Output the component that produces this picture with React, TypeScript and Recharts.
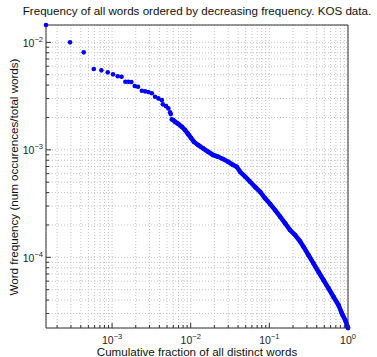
import React from 'react';
import { ScatterChart, Scatter, XAxis, YAxis, CartesianGrid } from 'recharts';

// axis limits (axis tight, as in the source plot)
const X_MIN = 1.445e-4;
const X_MAX = 1;
const Y_MIN = 2.2e-5;
const Y_MAX = 0.0145;

const X_MAJOR = [1e-3, 1e-2, 1e-1, 1];
const X_MINOR = [
  2e-4, 3e-4, 4e-4, 5e-4, 6e-4, 7e-4, 8e-4, 9e-4,
  2e-3, 3e-3, 4e-3, 5e-3, 6e-3, 7e-3, 8e-3, 9e-3,
  2e-2, 3e-2, 4e-2, 5e-2, 6e-2, 7e-2, 8e-2, 9e-2,
  0.2, 0.3, 0.4, 0.5, 0.6, 0.7, 0.8, 0.9,
];
const Y_MAJOR = [1e-4, 1e-3, 1e-2];
const Y_MINOR = [
  3e-5, 4e-5, 5e-5, 6e-5, 7e-5, 8e-5, 9e-5,
  2e-4, 3e-4, 4e-4, 5e-4, 6e-4, 7e-4, 8e-4, 9e-4,
  2e-3, 3e-3, 4e-3, 5e-3, 6e-3, 7e-3, 8e-3, 9e-3,
];

// most frequent words: separate dots
const HEAD_X = [
  1.445e-4, 2.92e-4, 4.36e-4, 5.85e-4, 7.31e-4, 8.81e-4, 1.028e-3, 1.18e-3, 1.321e-3,
  1.476e-3, 1.61e-3, 1.757e-3, 1.941e-3, 2.138e-3, 2.388e-3, 2.63e-3, 2.9e-3, 3.2e-3,
  3.52e-3, 3.88e-3, 4.29e-3, 4.42e-3, 4.86e-3, 5.2e-3, 5.47e-3, 5.58e-3, 5.74e-3,
];
const HEAD_Y = [
  0.01449, 0.01, 0.00807, 0.00565, 0.00549, 0.00526, 0.00504, 0.00483, 0.00479,
  0.0043, 0.0043, 0.00428, 0.00392, 0.00386, 0.00355, 0.0035, 0.00345, 0.00336,
  0.00312, 0.00301, 0.0029, 0.00265, 0.00255, 0.00243, 0.00223, 0.00215, 0.00192,
];

// the long tail, where the dots merge into a band
const TAIL_X = [
  5.97e-3, 6.32e-3, 6.97e-3, 7.69e-3, 8.47e-3, 9.27e-3, 0.01012, 0.01104, 0.01242,
  0.01435, 0.01664, 0.01928, 0.0223, 0.0258, 0.0299, 0.0346, 0.0385, 0.0425, 0.0492,
  0.0569, 0.0659, 0.0764, 0.0883, 0.1023, 0.1184, 0.1371, 0.1588, 0.1836, 0.2128,
  0.2466, 0.2716, 0.3141, 0.3638, 0.4207, 0.4875, 0.5649, 0.6531, 0.7568, 0.8356,
  0.9204, 0.9954, 1,
];
const TAIL_Y = [
  1.892e-3, 1.824e-3, 1.738e-3, 1.64e-3, 1.528e-3, 1.403e-3, 1.288e-3, 1.183e-3, 1.109e-3,
  1.032e-3, 9.6e-4, 8.95e-4, 8.63e-4, 8.21e-4, 7.75e-4, 7.22e-4, 6.96e-4, 6.25e-4, 5.62e-4,
  5.05e-4, 4.51e-4, 4.07e-4, 3.54e-4, 3.13e-4, 2.75e-4, 2.39e-4, 2.07e-4, 1.795e-4, 1.611e-4,
  1.403e-4, 1.256e-4, 1.05e-4, 8.79e-5, 7.34e-5, 6.15e-5, 5.15e-5, 4.3e-5, 3.6e-5, 3.01e-5,
  2.61e-5, 2.23e-5, 2.2e-5,
];

const headData = HEAD_X.map((x, i) => ({ x, y: HEAD_Y[i] }));
const tailData = TAIL_X.map((x, i) => ({ x, y: TAIL_Y[i] }));

const X_TICKS = [...X_MINOR, ...X_MAJOR].sort((a, b) => a - b);
const Y_TICKS = [...Y_MINOR, ...Y_MAJOR].sort((a, b) => a - b);

const FONT = '"Liberation Sans", Arial, sans-serif';
const BLUE = '#0000ff';
const AXIS = '#333';

const expLabel = (v: number) => {
  const e = Math.round(Math.log10(v));
  return e < 0 ? '\u2212' + -e : String(e);
};

const Power = ({ x, y, v, anchor }: any) => (
  <text x={x} y={y} textAnchor={anchor} fontFamily={FONT} fontSize={10.5} fill="#222">
    <tspan>10</tspan>
    <tspan dy={-5} fontSize={7.5}>{expLabel(v)}</tspan>
  </text>
);

const BottomTick = ({ x, y, payload }: any) => {
  const major = X_MAJOR.includes(payload.value);
  return (
    <g>
      <line x1={x} x2={x} y1={y} y2={y - (major ? 5 : 3)} stroke={AXIS} />
      {major && <Power x={x} y={y + 16} v={payload.value} anchor="middle" />}
    </g>
  );
};

const TopTick = ({ x, y, payload }: any) => {
  const major = X_MAJOR.includes(payload.value);
  return <line x1={x} x2={x} y1={y} y2={y + (major ? 5 : 3)} stroke={AXIS} />;
};

const LeftTick = ({ x, y, payload }: any) => {
  const major = Y_MAJOR.includes(payload.value);
  return (
    <g>
      <line x1={x} x2={x + (major ? 5 : 3)} y1={y} y2={y} stroke={AXIS} />
      {major && <Power x={x - 3} y={y + 4.4} v={payload.value} anchor="end" />}
    </g>
  );
};

const RightTick = ({ x, y, payload }: any) => {
  const major = Y_MAJOR.includes(payload.value);
  return <line x1={x} x2={x - (major ? 5 : 3)} y1={y} y2={y} stroke={AXIS} />;
};

const Dot = (props: any) => <circle cx={props.cx} cy={props.cy} r={2.3} fill={BLUE} />;

const textStyle: React.CSSProperties = {
  position: 'absolute',
  fontFamily: FONT,
  fontSize: 11.6,
  lineHeight: '14px',
  whiteSpace: 'nowrap',
  color: '#111',
};

export default function App() {
  return (
    <div style={{ position: 'absolute', left: 0, top: 0, width: 377, height: 357, background: '#fff' }}>
      <ScatterChart width={377} height={357} margin={{ top: 15, right: 19, bottom: 9, left: 16 }}>
        <CartesianGrid stroke="#c2c2c2" strokeDasharray="1 2" />
        <XAxis
          dataKey="x"
          type="number"
          scale="log"
          domain={[X_MIN, X_MAX]}
          ticks={X_TICKS}
          interval={0}
          height={20}
          tickSize={0}
          tickMargin={0}
          tickLine={false}
          axisLine={{ stroke: AXIS }}
          tick={<BottomTick />}
        />
        <XAxis
          xAxisId="top"
          orientation="top"
          dataKey="x"
          type="number"
          scale="log"
          domain={[X_MIN, X_MAX]}
          ticks={X_TICKS}
          interval={0}
          height={10}
          tickSize={0}
          tickMargin={0}
          tickLine={false}
          axisLine={{ stroke: AXIS }}
          tick={<TopTick />}
        />
        <YAxis
          dataKey="y"
          type="number"
          scale="log"
          domain={[Y_MIN, Y_MAX]}
          ticks={Y_TICKS}
          interval={0}
          width={30}
          tickSize={0}
          tickMargin={0}
          tickLine={false}
          axisLine={{ stroke: AXIS }}
          tick={<LeftTick />}
        />
        <YAxis
          yAxisId="right"
          orientation="right"
          dataKey="y"
          type="number"
          scale="log"
          domain={[Y_MIN, Y_MAX]}
          ticks={Y_TICKS}
          interval={0}
          width={10}
          tickSize={0}
          tickMargin={0}
          tickLine={false}
          axisLine={{ stroke: AXIS }}
          tick={<RightTick />}
        />
        <Scatter data={headData} fill={BLUE} shape={<Dot />} isAnimationActive={false} />
        <Scatter
          data={tailData}
          fill={BLUE}
          shape={<Dot />}
          line={{ stroke: BLUE, strokeWidth: 4.6, strokeLinejoin: 'round', strokeLinecap: 'round' }}
          lineType="joint"
          isAnimationActive={false}
        />
      </ScatterChart>
      <div style={{ ...textStyle, left: 0, width: 394, top: 4, textAlign: 'center' }}>
        Frequency of all words ordered by decreasing frequency. KOS data.
      </div>
      <div style={{ ...textStyle, left: 0, width: 394, top: 346, lineHeight: '11px', textAlign: 'center' }}>
        Cumulative fraction of all distinct words
      </div>
      <div
        style={{
          ...textStyle,
          left: 13.6,
          top: 176.5,
          transform: 'translate(-50%, -50%) rotate(-90deg)',
        }}
      >
        Word frequency (num occurences/total words)
      </div>
    </div>
  );
}
